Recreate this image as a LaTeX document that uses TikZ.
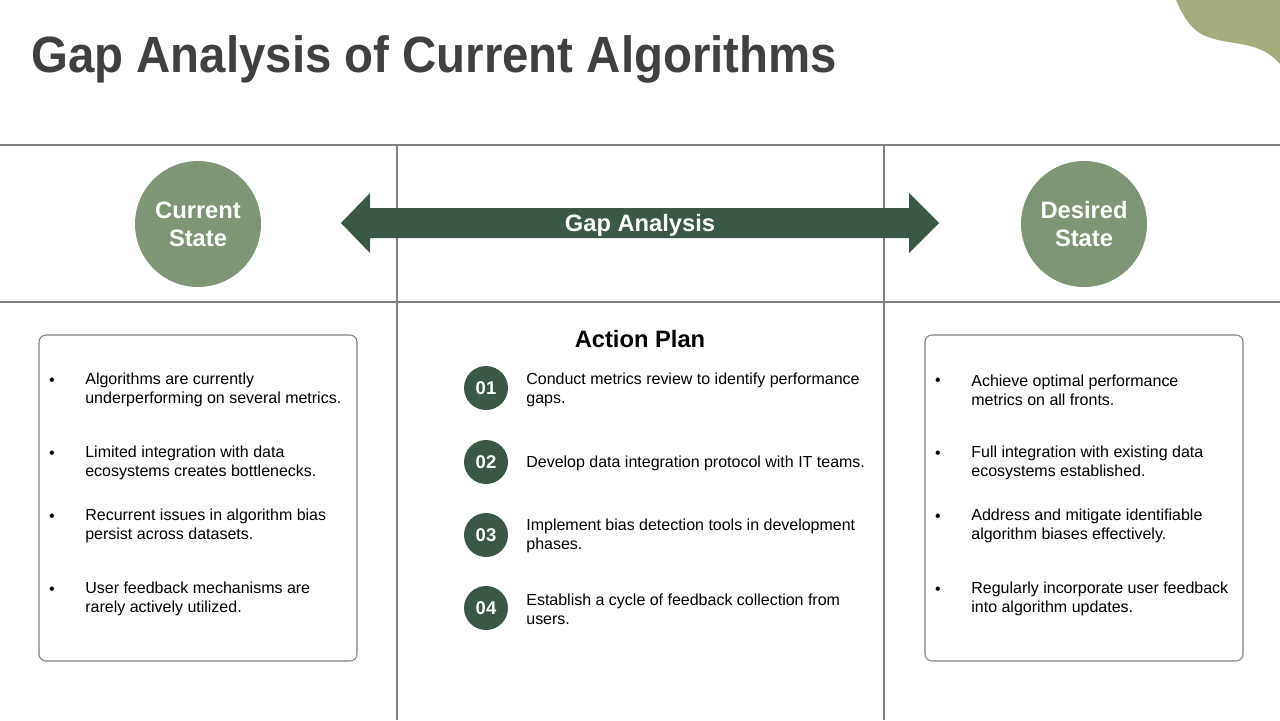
\documentclass[tikz,border=0pt]{standalone}
\usepackage{fontspec}
\setmainfont{Liberation Sans}
\usetikzlibrary{positioning}
\definecolor{salvia}{HTML}{7F9676}
\definecolor{bosque}{HTML}{3B5846}
\definecolor{oliva}{HTML}{A6AD7D}
\definecolor{titulo}{HTML}{404040}
\definecolor{linea}{HTML}{808080}
\newcommand{\cuerpo}{\fontsize{9.1}{10.6}\selectfont}

\begin{document}
\begin{tikzpicture}[x=0.02cm, y=-0.02cm,
      sep/.style={draw=linea, line width=0.6pt},
      caja/.style={draw=linea, rounded corners=4pt, line width=0.6pt},
      estado/.style={circle, fill=salvia, minimum size=2.52cm, inner sep=0pt, align=center,
                     text=white, font=\fontsize{13.5}{16}\selectfont\bfseries},
      num/.style={circle, fill=bosque, minimum size=0.88cm, inner sep=0pt,
                  text=white, font=\fontsize{10.5}{12}\selectfont\bfseries},
      item/.style={anchor=west, inner sep=0pt, align=left, font=\cuerpo},
      bala/.style={inner sep=0pt, font=\cuerpo}]
    \useasboundingbox (0,0) rectangle (1280,720);
    % esquina decorativa
    \fill[oliva] (1176,0) .. controls (1190,32) and (1200,38) .. (1235,43)
                 .. controls (1262,47) and (1272,55) .. (1280,64) -- (1280,0) -- cycle;
    \node[anchor=base west, inner sep=0pt, text=titulo,
          font=\fontsize{29}{34}\selectfont\bfseries] (tit) at (31,72)
          {\scalebox{0.93}[1]{Gap Analysis of Current Algorithms}};
    % rejilla
    \coordinate (h1a) at (0,145); \coordinate (h1b) at (1280,145);
    \coordinate (h2a) at (0,302); \coordinate (h2b) at (1280,302);
    \coordinate (v1a) at (397,145); \coordinate (v1b) at (397,720);
    \coordinate (v2a) at (884,145); \coordinate (v2b) at (884,720);
    \draw[sep] (h1a) -- (h1b); \draw[sep] (h2a) -- (h2b);
    \draw[sep] (v1a) -- (v1b); \draw[sep] (v2a) -- (v2b);
    % estados y flecha
    \node[estado] (act) at (198,224) {Current\\State};
    \node[estado] (des) at (1084,224) {Desired\\State};
    \fill[bosque] (341,223) -- (370,193) -- (370,208) -- (909,208) -- (909,193) -- (939,223)
                  -- (909,253) -- (909,238) -- (370,238) -- (370,253) -- cycle;
    \node[text=white, font=\fontsize{13.5}{16}\selectfont\bfseries] (gap) at (640,225) {Gap Analysis};
    % columna izquierda
    \draw[caja] (39,335) rectangle (357,661);
    \node[bala] (b1) at (52,382) {\textbullet};
    \node[item] (i1) at (85,390) {Algorithms are currently\\underperforming on several metrics.};
    \node[bala] (b2) at (52,455) {\textbullet};
    \node[item] (i2) at (85,463) {Limited integration with data\\ecosystems creates bottlenecks.};
    \node[bala] (b3) at (52,518) {\textbullet};
    \node[item] (i3) at (85,526) {Recurrent issues in algorithm bias\\persist across datasets.};
    \node[bala] (b4) at (52,591) {\textbullet};
    \node[item] (i4) at (85,599) {User feedback mechanisms are\\rarely actively utilized.};
    % plan de accion
    \node[font=\fontsize{13.5}{16}\selectfont\bfseries] (plan) at (640,339) {Action Plan};
    \node[num] (n1) at (486,388) {01};
    \node[item] (p1) at (526,390) {Conduct metrics review to identify performance\\gaps.};
    \node[num] (n2) at (486,462) {02};
    \node[item] (p2) at (526,463) {Develop data integration protocol with IT teams.};
    \node[num] (n3) at (486,535) {03};
    \node[item] (p3) at (526,536) {Implement bias detection tools in development\\phases.};
    \node[num] (n4) at (486,608) {04};
    \node[item] (p4) at (526,609) {Establish a cycle of feedback collection from\\users.};
    % columna derecha
    \draw[caja] (925,335) rectangle (1243,661);
    \node[bala] (d1) at (938,382) {\textbullet};
    \node[item] (j1) at (971,390) {Achieve optimal performance\\metrics on all fronts.};
    \node[bala] (d2) at (938,455) {\textbullet};
    \node[item] (j2) at (971,463) {Full integration with existing data\\ecosystems established.};
    \node[bala] (d3) at (938,518) {\textbullet};
    \node[item] (j3) at (971,526) {Address and mitigate identifiable\\algorithm biases effectively.};
    \node[bala] (d4) at (938,591) {\textbullet};
    \node[item] (j4) at (971,599) {Regularly incorporate user feedback\\into algorithm updates.};
  \end{tikzpicture}
\end{document}
